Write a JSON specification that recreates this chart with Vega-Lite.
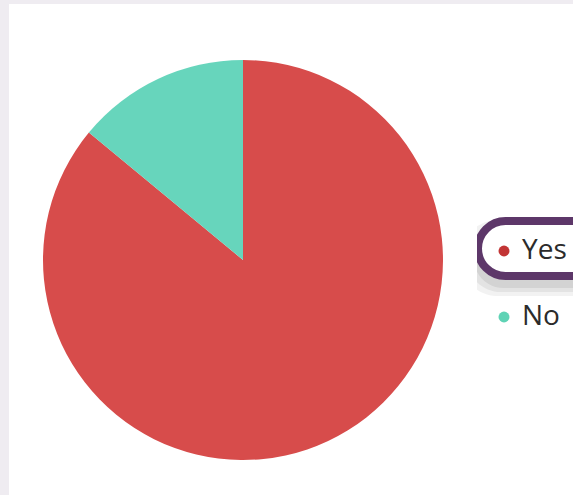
{
 "$schema": "https://vega.github.io/schema/vega-lite/v6.json",
 "background": "#efecf1",
 "padding": {"left": 9, "top": 4, "right": 0, "bottom": 0},
 "config": {"view": {"fill": "white", "stroke": null}},
 "spacing": 0,
 "datasets": {"answers": [{"answer": "Yes", "percent": 86}, {"answer": "No", "percent": 14}]},
 "vconcat": [
  {"width": 564, "height": 21, "view": {"fill": "white", "stroke": null}, "data": {"values": []}, "mark": {"type": "point", "opacity": 0}, "encoding": {}},
  {"spacing": 0, "hconcat": [
    {"width": 468, "height": 470, "view": {"fill": "white", "stroke": null}, "data": {"name": "answers"},
     "mark": {"type": "arc", "outerRadius": 200},
     "encoding": {
       "theta": {"field": "percent", "type": "quantitative", "stack": true},
       "color": {"field": "answer", "type": "nominal", "scale": {"domain": ["Yes", "No"], "range": ["#d74c4b", "#67d5bc"]}, "legend": null},
       "order": {"field": "answer", "sort": "descending"}
     }},
    {"width": 96, "height": 470, "view": {"fill": "white", "stroke": null}, "data": {"name": "answers"},
     "encoding": {"y": {"field": "answer", "type": "nominal", "scale": {"type": "point", "domain": ["Yes", "No"], "range": [226, 292], "padding": 0}, "axis": null}},
     "layer": [
       {"transform": [{"filter": "datum.answer === 'Yes'"}],
        "mark": {"type": "point", "shape": "M -0.709 -1 L 1.73 -1 A 1 1 0 0 1 1.73 1 L -0.709 1 A 1 1 0 0 1 -0.709 -1 Z", "size": 5776, "filled": true, "fill": "#000000", "fillOpacity": 0.05, "strokeWidth": 0, "opacity": 1, "yOffset": 7, "clip": true}},
       {"transform": [{"filter": "datum.answer === 'Yes'"}],
        "mark": {"type": "point", "shape": "M -0.709 -1 L 1.73 -1 A 1 1 0 0 1 1.73 1 L -0.709 1 A 1 1 0 0 1 -0.709 -1 Z", "size": 4624, "filled": true, "fill": "#000000", "fillOpacity": 0.06, "strokeWidth": 0, "opacity": 1, "yOffset": 7, "clip": true}},
       {"transform": [{"filter": "datum.answer === 'Yes'"}],
        "mark": {"type": "point", "shape": "M -0.709 -1 L 1.73 -1 A 1 1 0 0 1 1.73 1 L -0.709 1 A 1 1 0 0 1 -0.709 -1 Z", "size": 3600, "filled": true, "fill": "#000000", "fillOpacity": 0.07, "strokeWidth": 0, "opacity": 1, "yOffset": 7, "clip": true}},
       {"transform": [{"filter": "datum.answer === 'Yes'"}],
        "mark": {"type": "point", "shape": "M -0.709 -1 L 1.73 -1 A 1 1 0 0 1 1.73 1 L -0.709 1 A 1 1 0 0 1 -0.709 -1 Z", "size": 3025, "filled": true, "fill": "white", "stroke": "#5d3769", "strokeWidth": 8, "opacity": 1, "yOffset": -2.5, "clip": true}},
       {"mark": {"type": "point", "shape": "circle", "filled": true, "size": 120, "opacity": 1, "xOffset": -21},
        "encoding": {"fill": {"field": "answer", "type": "nominal", "scale": {"domain": ["Yes", "No"], "range": ["#c23535", "#5fd3b5"]}, "legend": null}}},
       {"mark": {"type": "text", "align": "left", "baseline": "middle", "dx": -3, "font": "Open Sans", "fontSize": 28, "color": "#2b2b2b"},
        "encoding": {"text": {"field": "answer"}}}
     ]}
  ]}
 ]
}
